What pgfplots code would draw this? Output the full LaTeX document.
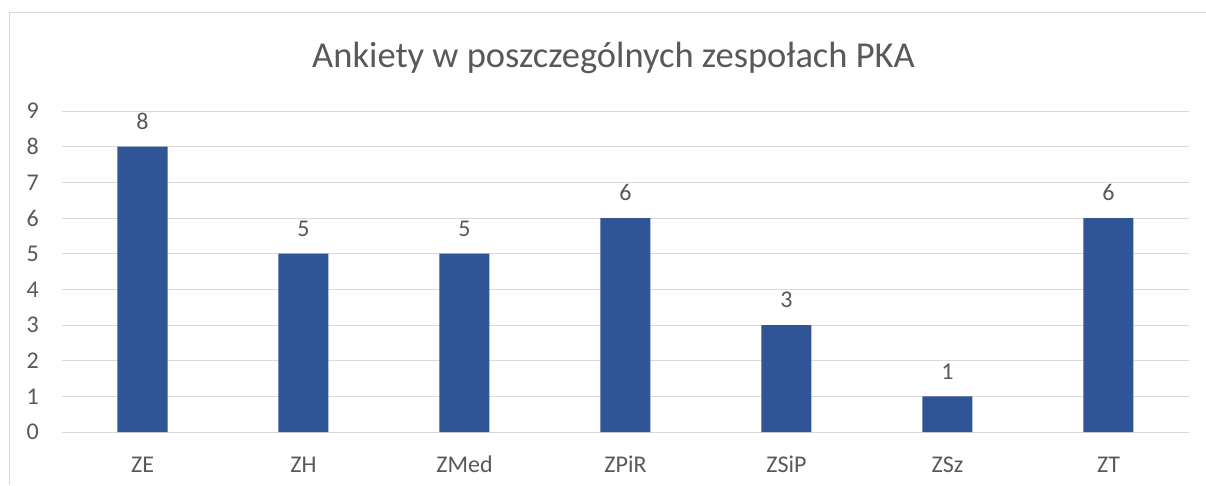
\documentclass[border=0pt]{standalone}
\usepackage{fontspec}
\setmainfont{Carlito}
\usepackage{pgfplots}
\pgfplotsset{compat=1.18}
\definecolor{barblue}{HTML}{2F5597}
\definecolor{gridgray}{HTML}{D9D9D9}
\definecolor{txtgray}{HTML}{595959}
\begin{document}
\begin{tikzpicture}[x=1pt,y=1pt]
\path[use as bounding box] (0,0) rectangle (1206,485);
\fill[white] (0,0) rectangle (1206,485);
\draw[gridgray, line width=1pt] (9.5,0) -- (9.5,472.5) -- (1206,472.5);
\node[anchor=base, text=txtgray, font=\fontsize{36.5}{36.5}\selectfont, inner sep=0pt] at (613.5,417) {Ankiety w poszczególnych zespołach PKA};
\begin{axis}[
  at={(62pt,53pt)}, anchor=south west,
  scale only axis, width=1127pt, height=321pt,
  xmin=-0.5, xmax=6.5, ymin=0, ymax=9,
  ybar, bar width=50pt, bar shift=0pt,
  axis line style={draw=none},
  major tick length=0pt,
  xtick={0,1,2,3,4,5,6},
  xticklabels={ZE,ZH,ZMed,ZPiR,ZSiP,ZSz,ZT},
  ytick={0,1,2,3,4,5,6,7,8,9},
  ymajorgrids, grid style={gridgray, line width=1pt},
  /pgf/number format/assume math mode=true,
  tick label style={text=txtgray, font=\fontsize{24}{24}\selectfont, inner sep=0pt},
  yticklabel style={anchor=east, xshift=-23pt},
  xticklabel style={anchor=north, yshift=-25pt, text height=15pt},
  nodes near coords,
  every node near coord/.append style={text=txtgray, font=\fontsize{24}{24}\selectfont, inner sep=0pt, anchor=south, yshift=17pt},
  clip=false,
]
\addplot[fill=barblue, draw=none] coordinates {(0,8) (1,5) (2,5) (3,6) (4,3) (5,1) (6,6)};
\end{axis}
\end{tikzpicture}
\end{document}
